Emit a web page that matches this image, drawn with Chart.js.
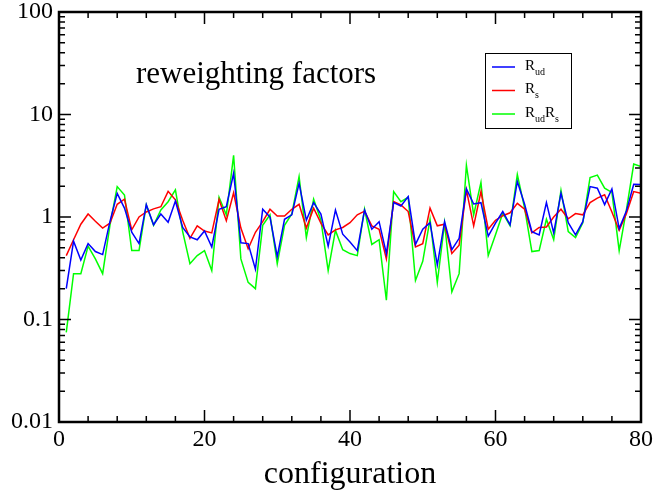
<!DOCTYPE html>
<html lang="en">
<head>
    <meta charset="UTF-8">
    <title>Reweighting factors</title>
    <script src="https://cdn.jsdelivr.net/npm/chart.js@4.4.1/dist/chart.umd.min.js"></script>
    <style>
        body {
            margin: 0;
            padding: 0;
            background: white;
        }
        .wrap {
            width: 656px;
            height: 495px;
            position: relative;
        }
    </style>
</head>
<body>
    <div class="wrap">
        <canvas id="rwChart" width="656" height="495"></canvas>
    </div>
    <script>
        // configuration number 1..80
        const configs = [];
        for (let i = 1; i <= 80; i++) configs.push(i);

        const rUd = [
            0.20, 0.58, 0.38, 0.55, 0.46, 0.43, 0.90, 1.70, 1.22, 0.71,
            0.55, 1.32, 0.84, 1.07, 0.89, 1.43, 0.79, 0.64, 0.60, 0.73,
            0.51, 1.19, 1.26, 2.67, 0.56, 0.55, 0.31, 1.19, 1.00, 0.41,
            0.95, 1.05, 2.13, 0.93, 1.38, 1.07, 0.52, 1.17, 0.68, 0.57,
            0.47, 1.17, 0.76, 0.90, 0.44, 1.38, 1.28, 1.58, 0.54, 0.76,
            0.88, 0.34, 0.90, 0.48, 0.62, 1.88, 1.34, 1.38, 0.65, 0.87,
            1.13, 0.84, 2.22, 1.33, 0.72, 0.67, 1.38, 0.70, 1.70, 0.88,
            0.67, 0.90, 1.98, 1.91, 1.32, 1.88, 0.77, 1.15, 2.09, 2.08
        ];
        const rS = [
            0.42, 0.60, 0.85, 1.07, 0.91, 0.78, 0.87, 1.33, 1.49, 0.75,
            1.00, 1.12, 1.20, 1.26, 1.78, 1.47, 0.93, 0.62, 0.82, 0.73,
            0.70, 1.48, 0.92, 1.72, 0.78, 0.49, 0.71, 0.90, 1.19, 1.02,
            1.02, 1.19, 1.33, 0.78, 1.22, 0.87, 0.67, 0.75, 0.79, 0.88,
            1.05, 1.14, 0.82, 0.76, 0.39, 1.41, 1.31, 1.13, 0.51, 0.55,
            1.22, 0.82, 0.85, 0.44, 0.53, 1.84, 0.82, 1.77, 0.76, 0.93,
            1.03, 1.10, 1.36, 1.19, 0.70, 0.79, 0.80, 1.00, 1.19, 0.96,
            1.08, 1.05, 1.38, 1.53, 1.65, 1.12, 0.74, 1.08, 1.77, 1.70
        ];
        const rUdRs = [
            0.075, 0.28, 0.28, 0.52, 0.39, 0.28, 0.83, 1.98, 1.64, 0.47,
            0.47, 1.31, 0.83, 1.17, 1.41, 1.84, 0.72, 0.35, 0.42, 0.47,
            0.30, 1.56, 1.05, 4.00, 0.39, 0.23, 0.20, 0.83, 1.05, 0.35,
            0.83, 1.07, 2.48, 0.63, 1.49, 0.93, 0.30, 0.74, 0.48, 0.44,
            0.42, 1.19, 0.54, 0.60, 0.154, 1.77, 1.41, 1.56, 0.24, 0.37,
            0.95, 0.23, 0.87, 0.186, 0.28, 3.20, 1.05, 2.17, 0.42, 0.67,
            1.09, 0.82, 2.60, 1.22, 0.46, 0.47, 0.95, 0.60, 1.82, 0.72,
            0.63, 0.88, 2.43, 2.56, 1.91, 1.74, 0.47, 1.18, 3.28, 3.10
        ];

        const xTicks = [0, 20, 40, 60, 80];
        const yTicks = [0.01, 0.1, 1, 10, 100];

        const serif = '"Liberation Serif", "DejaVu Serif", serif';

        function toPoints(vals) {
            return vals.map((v, i) => ({ x: configs[i], y: v }));
        }

        // frame, inward ticks, legend and label text
        const decorPlugin = {
            id: 'decor',
            afterDraw(chart) {
                const ctx = chart.ctx;
                const a = chart.chartArea;
                const xs = chart.scales.x;
                const ys = chart.scales.y;
                ctx.save();
                ctx.strokeStyle = '#000';

                // ticks on all four sides: x minor every 4, y minor at 2..9
                ctx.lineWidth = 1.5;
                ctx.beginPath();
                for (let v = 0; v <= 80; v += 4) {
                    const px = xs.getPixelForValue(v);
                    const len = (v % 20 === 0) ? 12 : 6;
                    ctx.moveTo(px, a.bottom); ctx.lineTo(px, a.bottom - len);
                    ctx.moveTo(px, a.top); ctx.lineTo(px, a.top + len);
                }
                for (let e = -2; e <= 1; e++) {
                    for (let m = 1; m <= 9; m++) {
                        const py = ys.getPixelForValue(m * Math.pow(10, e));
                        const len = (m === 1) ? 12 : 6;
                        ctx.moveTo(a.left, py); ctx.lineTo(a.left + len, py);
                        ctx.moveTo(a.right, py); ctx.lineTo(a.right - len, py);
                    }
                }
                ctx.stroke();

                // frame
                ctx.lineWidth = 2.5;
                ctx.strokeRect(a.left, a.top, a.right - a.left, a.bottom - a.top);

                // label in plot
                ctx.fillStyle = '#000';
                ctx.font = '31px ' + serif;
                ctx.textBaseline = 'middle';
                ctx.fillText('reweighting factors', 136, 75);

                // legend
                const lx = 485, ly = 53, lw = 86, lh = 75;
                ctx.lineWidth = 1;
                ctx.strokeRect(lx + 0.5, ly + 0.5, lw, lh);
                const entries = [
                    { color: '#0000ff', parts: [['R', 'ud']] },
                    { color: '#ff0000', parts: [['R', 's']] },
                    { color: '#00ff00', parts: [['R', 'ud'], ['R', 's']] }
                ];
                entries.forEach((en, k) => {
                    const y = ly + 14 + k * 23.5;
                    ctx.strokeStyle = en.color;
                    ctx.lineWidth = 1.5;
                    ctx.beginPath();
                    ctx.moveTo(492, y); ctx.lineTo(515, y);
                    ctx.stroke();
                    let tx = 525;
                    en.parts.forEach(p => {
                        ctx.font = '15px ' + serif;
                        ctx.fillText(p[0], tx, y - 1);
                        tx += ctx.measureText(p[0]).width;
                        ctx.font = '10px ' + serif;
                        ctx.fillText(p[1], tx, y + 5);
                        tx += ctx.measureText(p[1]).width;
                    });
                });
                ctx.restore();
            }
        };

        const ctx = document.getElementById('rwChart').getContext('2d');
        const rwChart = new Chart(ctx, {
            type: 'line',
            data: {
                datasets: [
                    { label: 'R_ud', data: toPoints(rUd), borderColor: '#0000ff' },
                    { label: 'R_s', data: toPoints(rS), borderColor: '#ff0000' },
                    { label: 'R_ud R_s', data: toPoints(rUdRs), borderColor: '#00ff00' }
                ]
            },
            options: {
                responsive: false,
                animation: false,
                devicePixelRatio: 1,
                layout: { padding: { left: 0, top: 0, right: 13, bottom: 0 } },
                elements: {
                    line: { borderWidth: 1.5, tension: 0 },
                    point: { radius: 0 }
                },
                plugins: {
                    legend: { display: false },
                    tooltip: { enabled: false }
                },
                scales: {
                    x: {
                        type: 'linear',
                        min: 0,
                        max: 80,
                        grid: { display: false, drawTicks: false },
                        border: { display: false },
                        afterBuildTicks: s => { s.ticks = xTicks.map(v => ({ value: v })); },
                        afterFit: s => { s.height = 73; },
                        ticks: {
                            color: '#000',
                            padding: 3,
                            maxRotation: 0,
                            font: { family: serif, size: 24 }
                        },
                        title: {
                            display: true,
                            text: 'configuration',
                            color: '#000',
                            padding: { top: 0, bottom: 1 },
                            font: { family: serif, size: 32 }
                        }
                    },
                    y: {
                        type: 'logarithmic',
                        min: 0.01,
                        max: 100,
                        grid: { display: false, drawTicks: false },
                        border: { display: false },
                        afterBuildTicks: s => { s.ticks = yTicks.map(v => ({ value: v })); },
                        afterFit: s => { s.width = 59; s.paddingTop = 12; s.paddingBottom = 12; },
                        ticks: {
                            color: '#000',
                            padding: 6,
                            font: { family: serif, size: 24, lineHeight: 1 },
                            callback: v => String(v)
                        }
                    }
                }
            },
            plugins: [decorPlugin]
        });
    </script>
</body>
</html>
